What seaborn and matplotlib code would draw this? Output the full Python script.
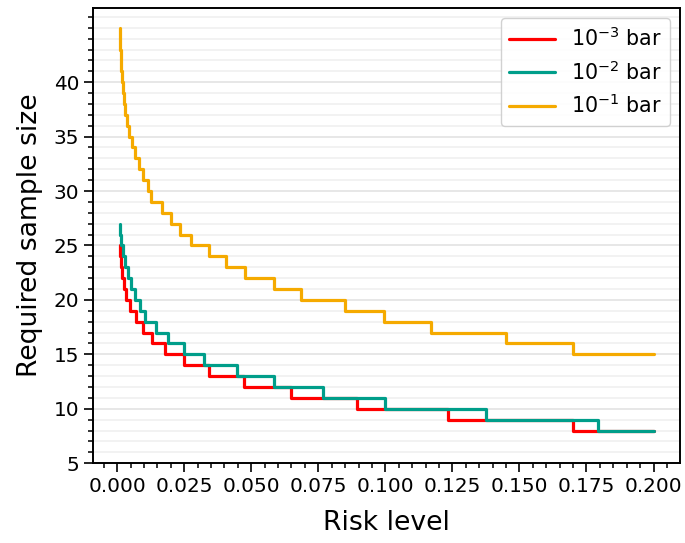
import numpy as np
import pandas as pd
import matplotlib
matplotlib.use('Agg')
import matplotlib.pyplot as plt
import seaborn as sns
from matplotlib.ticker import MultipleLocator, FixedLocator

# risk level at which each sample size starts (step "post"), last point closes the step at 0.2
risk_1e3 = [0.0010, 0.00105, 0.0013, 0.0018, 0.0025, 0.0034, 0.0048, 0.0071, 0.0096, 0.0131,
            0.0180, 0.0249, 0.0341, 0.0472, 0.0649, 0.0894, 0.1234, 0.1700, 0.2000]
size_1e3 = [25, 24, 23, 22, 21, 20, 19, 18, 17, 16, 15, 14, 13, 12, 11, 10, 9, 8, 8]

risk_1e2 = [0.0010, 0.0012, 0.0016, 0.0021, 0.0029, 0.0040, 0.0052, 0.0066, 0.0084, 0.0105,
            0.01455, 0.0191, 0.0249, 0.0325, 0.0447, 0.0583, 0.0766, 0.0997, 0.1374, 0.1793, 0.2000]
size_1e2 = [27, 26, 25, 24, 23, 22, 21, 20, 19, 18, 17, 16, 15, 14, 13, 12, 11, 10, 9, 8, 8]

risk_1e1 = [0.0010, 0.0011, 0.0012, 0.0014, 0.0016, 0.0019, 0.0022, 0.0026, 0.0031, 0.0037,
            0.0044, 0.0054, 0.0065, 0.0080, 0.0097, 0.0116, 0.0127, 0.0166, 0.0201, 0.0235,
            0.0274, 0.0341, 0.0404, 0.0475, 0.0584, 0.0687, 0.0849, 0.0994, 0.1172, 0.1449,
            0.1700, 0.2000]
size_1e1 = [45, 44, 43, 42, 41, 40, 39, 38, 37, 36, 35, 34, 33, 32, 31, 30, 29, 28, 27, 26,
            25, 24, 23, 22, 21, 20, 19, 18, 17, 16, 15, 15]

labels = [r'$10^{-3}$ bar', r'$10^{-2}$ bar', r'$10^{-1}$ bar']
colors = ['#ff0000', '#009e8a', '#f5aa00']

df = pd.concat([
    pd.DataFrame({'risk': risk_1e3, 'n': size_1e3, 'series': labels[0]}),
    pd.DataFrame({'risk': risk_1e2, 'n': size_1e2, 'series': labels[1]}),
    pd.DataFrame({'risk': risk_1e1, 'n': size_1e1, 'series': labels[2]}),
], ignore_index=True)

sns.set_style('ticks')
plt.rcParams['font.family'] = ['DejaVu Sans']
plt.rcParams['mathtext.fontset'] = 'dejavusans'
plt.rcParams['text.color'] = 'black'
plt.rcParams['axes.labelcolor'] = 'black'
plt.rcParams['xtick.color'] = 'black'
plt.rcParams['ytick.color'] = 'black'

fig, ax = plt.subplots(figsize=(6.85, 5.43), dpi=100)
fig.subplots_adjust(left=0.136, right=0.993, top=0.986, bottom=0.147)

sns.lineplot(data=df, x='risk', y='n', hue='series', hue_order=labels,
             palette=dict(zip(labels, colors)), drawstyle='steps-post',
             linewidth=2.3, ax=ax, legend=False)

for lab, col in zip(labels, colors):
    ax.plot([], [], color=col, lw=2.3, label=lab)

ax.set_ylim(bottom=5)
ax.yaxis.set_major_locator(FixedLocator(np.arange(5, 45, 5)))
ax.yaxis.set_minor_locator(MultipleLocator(1))
ax.xaxis.set_major_locator(MultipleLocator(0.025))
ax.xaxis.set_minor_locator(MultipleLocator(0.005))
ax.xaxis.set_major_formatter(matplotlib.ticker.FormatStrFormatter('%.3f'))

ax.yaxis.grid(True, which='minor', color='#f0f0f0', lw=1.2)
ax.yaxis.grid(True, which='major', color='#e3e3e3', lw=1.2)
ax.xaxis.grid(False)
ax.set_axisbelow(True)

for s in ax.spines.values():
    s.set_visible(True)
    s.set_linewidth(1.4)
    s.set_color('black')

ax.tick_params(which='major', length=6.5, width=1.2, labelsize=14.4, direction='out',
               color='black', labelcolor='black')
ax.tick_params(which='minor', length=3.5, width=1.1, direction='out', color='black')

ax.set_xlabel('Risk level', fontsize=19.2, labelpad=10)
ax.set_ylabel('Required sample size', fontsize=19.2, labelpad=8)

ax.legend(loc='upper right', fontsize=14.8, handlelength=2.2, frameon=True,
          edgecolor='#cccccc', framealpha=0.9)

fig.savefig('out.png', dpi=100)
